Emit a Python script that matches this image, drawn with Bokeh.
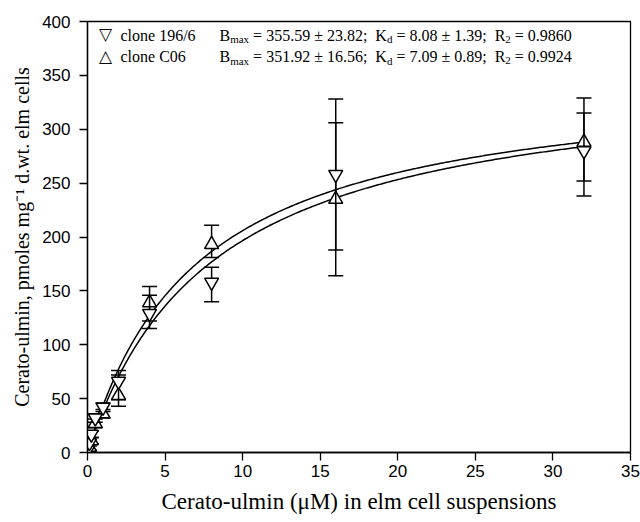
import numpy as np
from bokeh.plotting import figure
from bokeh.models import Label, FixedTicker, Range1d
from bokeh.embed import file_html
from bokeh.resources import INLINE

# ---- data ----
conc = [0, 0.125, 0.25, 0.5, 1, 2, 4, 8, 16, 32]
y_196 = [2, 9, 17, 32, 42, 66, 129, 158, 258, 280]
lo_196 = [0, 6, 14, 28, 38, 49, 115, 140, 188, 238]
hi_196 = [4, 12, 20, 36, 46, 76, 146, 172, 328, 329]
y_c06 = [0, 5, 11, 27, 36, 53, 139, 193, 235, 288]
lo_c06 = [0, 2, 8, 23, 32, 43, 122, 181, 164, 252]
hi_c06 = [2, 8, 14, 31, 40, 72, 154, 211, 306, 315]

# fit parameters (from the legend)
bmax_196, kd_196, r2_196 = 355.59, 8.08, 0.9860
bmax_c06, kd_c06, r2_c06 = 351.92, 7.09, 0.9924
bmax_err = ["23.82", "16.56"]
kd_err = ["1.39", "0.89"]

x_ticks = [0, 5, 10, 15, 20, 25, 30, 35]
y_ticks = [0, 50, 100, 150, 200, 250, 300, 350, 400]

SERIF = "Liberation Serif"
SANS = "Liberation Sans"

W_FIG, H_FIG = 640, 522
B_LEFT, B_RIGHT, B_TOP, B_BOTTOM = 87, 10, 21, 70
FRAME_H = H_FIG - B_TOP - B_BOTTOM

p = figure(width=W_FIG, height=H_FIG, x_range=Range1d(0, 35), y_range=Range1d(0, 400),
           output_backend="svg", toolbar_location=None,
           min_border_left=B_LEFT, min_border_right=B_RIGHT,
           min_border_top=B_TOP, min_border_bottom=B_BOTTOM)
p.xgrid.visible = False
p.ygrid.visible = False
p.outline_line_color = "black"
p.outline_line_width = 1.3
p.background_fill_color = "white"
p.border_fill_color = "white"

for ax, ticks in ((p.xaxis, x_ticks), (p.yaxis, y_ticks)):
    ax.ticker = FixedTicker(ticks=ticks)
    ax.major_tick_in = 0
    ax.major_tick_out = 8
    ax.minor_tick_line_color = None
    ax.axis_line_width = 1.3
    ax.major_tick_line_width = 1.3
    ax.major_label_text_font = SANS
    ax.major_label_text_font_size = "17px"
    ax.major_label_text_color = "black"
    ax.axis_label_text_font = SERIF
    ax.axis_label_text_font_style = "normal"
    ax.axis_label_text_color = "black"

p.xaxis.axis_label = "Cerato-ulmin (\u03bcM) in elm cell suspensions"
p.xaxis.axis_label_text_font_size = "23px"
p.xaxis.major_label_standoff = 4
p.xaxis.axis_label_standoff = 9
p.yaxis.axis_label = "Cerato-ulmin, pmoles mg\u207b\u00b9 d.wt. elm cells"
p.yaxis.axis_label_text_font_size = "20px"
p.yaxis.major_label_standoff = 9
p.yaxis.axis_label_standoff = 6

# fitted hyperbolas
xs = np.linspace(0, 32, 300)
p.line(xs, bmax_196 * xs / (kd_196 + xs), line_color="black", line_width=1.5)
p.line(xs, bmax_c06 * xs / (kd_c06 + xs), line_color="black", line_width=1.5)

def series(y, lo, hi, marker):
    p.segment(x0=conc, y0=lo, x1=conc, y1=hi, line_color="black", line_width=1.5)
    p.scatter(conc, lo, marker="dash", size=15, line_color="black", line_width=1.5)
    p.scatter(conc, hi, marker="dash", size=15, line_color="black", line_width=1.5)
    p.scatter(conc, y, marker=marker, size=14, fill_color="white",
              line_color="black", line_width=1.5)

series(y_c06, lo_c06, hi_c06, "triangle")
series(y_196, lo_196, hi_196, "inverted_triangle")

# ---- text helpers (Times / Liberation Serif advance widths, em) ----
W = {' ': .25, '.': .25, ',': .25, ';': .278, '=': .564, '\u00b1': .549, '-': .333,
     'B': .667, 'C': .667, 'K': .722, 'R': .667,
     'a': .444, 'c': .444, 'd': .5, 'e': .444, 'g': .5, 'i': .278, 'l': .278,
     'm': .778, 'n': .5, 'o': .5, 'p': .5, 'r': .333, 's': .389, 't': .278,
     'u': .5, 'w': .722, 'x': .5}

def tw(s, size):
    return sum(W.get(c, .5) for c in s) * size

def lab(x, y, text, size=16, font=SERIF, align="left"):
    p.add_layout(Label(x=x, y=y, x_units="screen", y_units="screen", text=text,
                       text_font=font, text_font_size=f"{size}px", text_color="black",
                       text_align=align, text_baseline="alphabetic"))

# ---- legend text with subscripts ----
FS, SS = 16, 11
rows = [("\u25bd", "clone 196/6", bmax_196, bmax_err[0], kd_196, kd_err[0], r2_196),
        ("\u25b3", "clone C06", bmax_c06, bmax_err[1], kd_c06, kd_err[1], r2_c06)]
for i, (sym, name, bm, bme, kd, kde, r2) in enumerate(rows):
    base = FRAME_H - 13.5 - i * 21.7
    lab(18, base + 1, sym, size=17, font="DejaVu Sans", align="center")
    lab(33, base, name, size=FS)
    x = 132.0
    groups = [("B", "max", f"= {bm:.2f} \u00b1 {bme};"),
              ("K", "d", f"= {kd:.2f} \u00b1 {kde};"),
              ("R", "2", f"= {r2:.4f}")]
    for main, sub, rest in groups:
        lab(x, base, main, size=FS)
        x += tw(main, FS)
        lab(x, base - 4, sub, size=SS)
        x += tw(sub, SS) + tw(" ", FS)
        lab(x, base, rest, size=FS)
        x += tw(rest, FS) + 2 * tw(" ", FS)

open("out.html", "w").write(file_html(p, INLINE))
